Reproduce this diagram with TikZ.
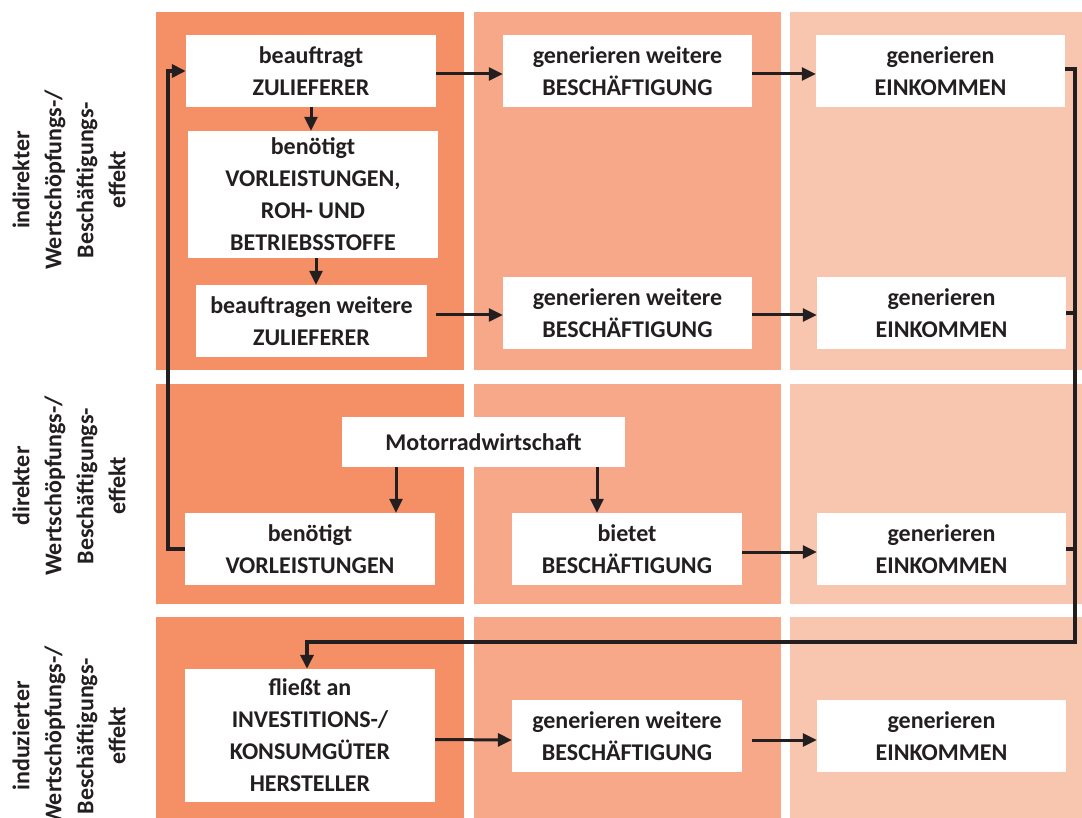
\documentclass[tikz,border=0pt]{standalone}
\usepackage{fontspec}
\setmainfont{Carlito}
\usetikzlibrary{arrows.meta,calc}
\definecolor{cA}{RGB}{245,143,102}
\definecolor{cB}{RGB}{247,168,136}
\definecolor{cC}{RGB}{248,197,174}
\definecolor{ink}{RGB}{35,31,32}
\begin{document}
\begin{tikzpicture}[x=1pt,y=-1pt,
  box/.style={fill=white, inner sep=0pt, align=center, text=ink,
    font=\fontsize{24}{32}\selectfont\bfseries},
  arr/.style={draw=ink, line width=3pt, -{Triangle[length=14pt,width=13pt]}},
  loopl/.style={draw=ink, line width=4pt},
  side/.style={rotate=90, align=center, text=ink, inner sep=0pt,
    font=\fontsize{24}{32}\selectfont\bfseries}]
\useasboundingbox (0,0) rectangle (1082,818);
% panels
\fill[cA] (156,12) rectangle (464,370);
\fill[cB] (474,12) rectangle (781,370);
\fill[cC] (790,12) rectangle (1082,370);
\fill[cA] (156,384) rectangle (464,604);
\fill[cB] (474,384) rectangle (781,604);
\fill[cC] (790,384) rectangle (1082,604);
\fill[cA] (156,617) rectangle (464,818);
\fill[cB] (474,617) rectangle (781,818);
\fill[cC] (790,617) rectangle (1082,818);
% side labels
\node[side] (l1) at (69,180) {indirekter\\Wertschöpfungs-/\\Beschäftigungs-\\effekt};
\node[side] (l2) at (69,486) {direkter\\Wertschöpfungs-/\\Beschäftigungs-\\effekt};
\node[side] (l3) at (69,736) {induzierter\\Wertschöpfungs-/\\Beschäftigungs-\\effekt};
% boxes
\node[box, minimum width=250pt, minimum height=72pt] (b1) at (311,71) {beauftragt\\ZULIEFERER};
\node[box, minimum width=250pt, minimum height=127pt] (b2) at (313,194.5) {benötigt\\VORLEISTUNGEN,\\ROH- UND\\BETRIEBSSTOFFE};
\node[box, minimum width=231pt, minimum height=72pt] (b3) at (311.5,321) {beauftragen weitere\\ZULIEFERER};
\node[box, minimum width=249pt, minimum height=72pt] (g1) at (627.5,71) {generieren weitere\\BESCHÄFTIGUNG};
\node[box, minimum width=249pt, minimum height=72pt] (e1) at (940.5,71) {generieren\\EINKOMMEN};
\node[box, minimum width=249pt, minimum height=72pt] (g2) at (627.5,313) {generieren weitere\\BESCHÄFTIGUNG};
\node[box, minimum width=249pt, minimum height=72pt] (e2) at (941.5,313) {generieren\\EINKOMMEN};
\node[box, minimum width=283pt, minimum height=50pt] (m) at (483.5,442) {Motorradwirtschaft};
\node[box, minimum width=250pt, minimum height=72pt] (v) at (310,549) {benötigt\\VORLEISTUNGEN};
\node[box, minimum width=230pt, minimum height=72pt] (bb) at (627,549) {bietet\\BESCHÄFTIGUNG};
\node[box, minimum width=249pt, minimum height=72pt] (e3) at (941.5,549) {generieren\\EINKOMMEN};
\node[box, minimum width=250pt, minimum height=133pt] (f) at (310,735.5) {fließt an\\INVESTITIONS-/\\KONSUMGÜTER\\HERSTELLER};
\node[box, minimum width=230pt, minimum height=72pt] (g3) at (627,736) {generieren weitere\\BESCHÄFTIGUNG};
\node[box, minimum width=249pt, minimum height=72pt] (e4) at (941.5,736) {generieren\\EINKOMMEN};
% arrows
\draw[arr] ([yshift=-3pt]b1.east) -- ([yshift=-3pt]g1.west);
\draw[arr] ([yshift=-3pt]g1.east) -- ([yshift=-3pt]e1.west);
\draw[arr] (b1.south) -- (b1.south |- b2.north);
\draw[arr] ([xshift=3pt]b2.south) -- ([xshift=3pt]b2.south |- b3.north);
\draw[arr] ([yshift=-2pt]b1.east |- g2.west) -- ([yshift=-2pt]g2.west);
\draw[arr] ([yshift=-2pt]g2.east) -- ([yshift=-2pt]e2.west);
\draw[arr] ([xshift=-87.5pt]m.south) -- ([xshift=-87.5pt]m.south |- v.north);
\draw[arr] ([xshift=113.5pt]m.south) -- ([xshift=113.5pt]m.south |- bb.north);
\draw[arr] ([yshift=-3pt]bb.east) -- ([yshift=-3pt]e3.west);
\draw[arr] ([yshift=-4pt]f.east) -- ([yshift=-4pt]g3.west);
\draw[arr] ([yshift=-4pt]g1.east |- e4.west) -- ([yshift=-4pt]e4.west);
% feedback loops
\draw[loopl, -{Triangle[length=14pt,width=13pt]}] (v.west) -- ++(-17,0) |- (b1.west);
\coordinate (rc) at (1075,642);
\draw[loopl, -{Triangle[length=14pt,width=13pt]}] ([yshift=2pt]e1.east) -| (rc) -| ([xshift=-3pt]f.north);
\draw[loopl] (e2.east) -- (rc |- e2.east);
\draw[loopl] (e3.east) -- (rc |- e3.east);
\end{tikzpicture}
\end{document}
